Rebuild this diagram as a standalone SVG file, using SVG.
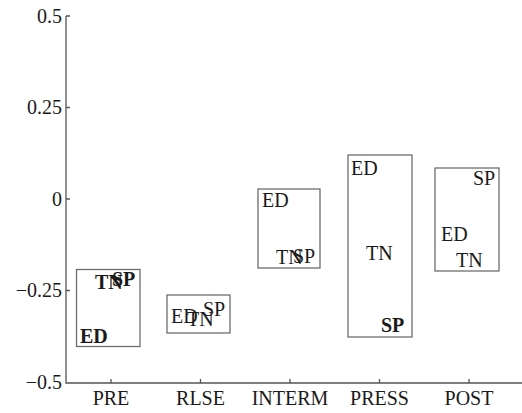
<svg xmlns="http://www.w3.org/2000/svg" width="522" height="413" viewBox="0 0 522 413" font-family="Liberation Serif, serif">
<style>
text{font-family:"Liberation Serif",serif;font-size:20px;fill:#1a1a1a}
.b{font-weight:bold}
.box{fill:none;stroke:#6e6e6e;stroke-width:1.3}
.ax{stroke:#555;stroke-width:1.3;fill:none}
.xl{text-anchor:middle}
.yl{text-anchor:end}
</style>
<rect width="522" height="413" fill="#fff"/>
<g id="axes">
<path class="ax" d="M66,16V383H522"/>
<path class="ax" d="M66,16h4M66,107.5h4M66,199h4M66,290.5h4M111,383v-4M200.5,383v-4M290,383v-4M379.5,383v-4M469,383v-4"/>
<text class="yl" x="62" y="23">0.5</text>
<text class="yl" x="62" y="114">0.25</text>
<text class="yl" x="62" y="206">0</text>
<text class="yl" x="62" y="297">−0.25</text>
<text class="yl" x="62" y="389">−0.5</text>
<text class="xl" x="111" y="405">PRE</text>
<text class="xl" x="200.5" y="405">RLSE</text>
<text class="xl" x="290" y="405">INTERM</text>
<text class="xl" x="379.5" y="405">PRESS</text>
<text class="xl" x="469" y="405">POST</text>
</g>
<g id="pre">
<rect class="box" x="76.5" y="269.5" width="63.5" height="77"/>
<text class="b" x="95" y="289">TN</text>
<text class="b" x="112" y="286">SP</text>
<text class="b" x="80" y="343">ED</text>
</g>
<g id="rlse">
<rect class="box" x="167" y="295" width="63" height="38"/>
<text x="171" y="323">ED</text>
<text x="187" y="326">TN</text>
<text x="203" y="316">SP</text>
</g>
<g id="interm">
<rect class="box" x="258" y="189" width="62" height="79"/>
<text x="262" y="207">ED</text>
<text x="276" y="264">TN</text>
<text x="293" y="263">SP</text>
</g>
<g id="press">
<rect class="box" x="348" y="155" width="64" height="182"/>
<text x="351" y="175">ED</text>
<text x="366" y="260">TN</text>
<text class="b" x="381" y="332">SP</text>
</g>
<g id="post">
<rect class="box" x="435" y="168" width="64" height="103"/>
<text x="473" y="185">SP</text>
<text x="441" y="241">ED</text>
<text x="456" y="267">TN</text>
</g>
</svg>
